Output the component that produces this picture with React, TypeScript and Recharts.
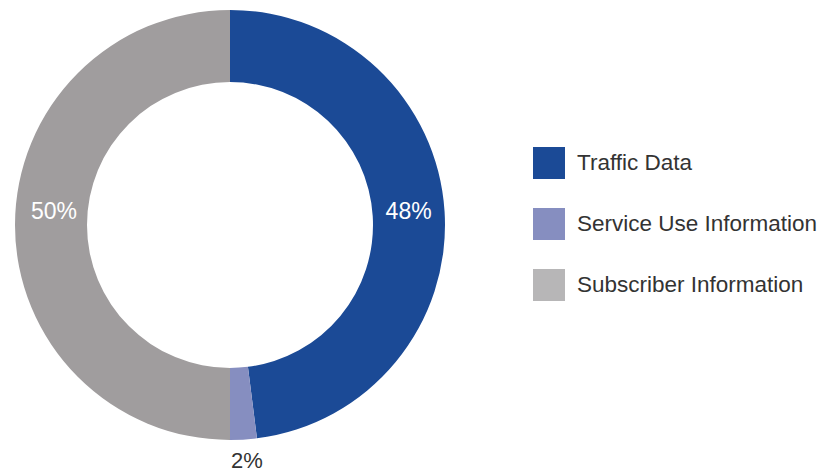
import React from 'react';
import { PieChart, Pie, Cell, Legend } from 'recharts';

const categories = ['Traffic Data', 'Service Use Information', 'Subscriber Information'];
const values = [48, 2, 50];
const labels = ['48%', '2%', '50%'];
const sliceColors = ['#1B4A96', '#868EC0', '#A09D9E'];
const legendColors = ['#1B4A96', '#868EC0', '#B7B6B7'];

const data = categories.map((name, i) => ({ name, value: values[i], label: labels[i] }));

const RAD = Math.PI / 180;
const FONT = '"Liberation Sans", Arial, sans-serif';

const renderLabel = (props: any) => {
  const { cx, cy, midAngle, innerRadius, outerRadius, index } = props;
  const inside = values[index] > 5;
  const r = inside ? (innerRadius + outerRadius) / 2 : outerRadius + 21;
  const x = cx + r * Math.cos(-midAngle * RAD);
  const y = inside ? cy - 14 : cy + r * Math.sin(-midAngle * RAD);
  return (
    <text
      x={x + (inside && x < cx ? 3 : 0) + (inside ? 0 : 2)}
      y={y}
      textAnchor="middle"
      dominantBaseline="central"
      fill={inside ? '#FFFFFF' : '#333333'}
      fontSize={inside ? 23 : 22}
      fontFamily={FONT}
      fontWeight={300}
    >
      {labels[index]}
    </text>
  );
};

const LegendContent = () => (
  <div style={{ fontFamily: FONT }}>
    {categories.map((c, i) => (
      <div key={c} style={{ display: 'flex', alignItems: 'center', height: 32, marginBottom: i < 2 ? 29 : 0 }}>
        <div style={{ width: 32, height: 32, background: legendColors[i], marginRight: 12, flexShrink: 0 }} />
        <span style={{ fontSize: 22.5, color: '#333333', fontWeight: 300, whiteSpace: 'nowrap' }}>{c}</span>
      </div>
    ))}
  </div>
);

export default function App() {
  return (
    <div style={{ position: 'absolute', left: 0, top: 0, background: '#fff' }}>
      <PieChart width={823} height={474} margin={{ top: 0, right: 0, bottom: 0, left: 0 }}>
        <Pie
          data={data}
          dataKey="value"
          nameKey="name"
          cx={230}
          cy={225}
          innerRadius={143}
          outerRadius={215}
          startAngle={90}
          endAngle={-270}
          stroke="none"
          label={renderLabel}
          labelLine={false}
          isAnimationActive={false}
        >
          {data.map((d, i) => (
            <Cell key={d.name} fill={sliceColors[i]} />
          ))}
        </Pie>
        <Legend
          content={<LegendContent />}
          wrapperStyle={{ position: 'absolute', left: 533, top: 147, width: 290 }}
        />
      </PieChart>
    </div>
  );
}
